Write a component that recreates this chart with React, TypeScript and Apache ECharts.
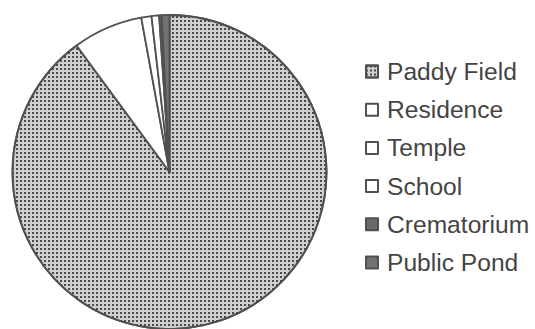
import React, { useEffect, useRef } from "react";
import * as echarts from "echarts";

const categories = ["Paddy Field", "Residence", "Temple", "School", "Crematorium", "Public Pond"];
const values = [89.9, 7.2, 1.05, 0.78, 0.25, 0.8];

export default function App() {
  const ref = useRef<HTMLDivElement>(null);
  useEffect(() => {
    if (!ref.current) return;
    const chart = echarts.init(ref.current, undefined, { renderer: "svg" });
    const border = { borderColor: "#505050", borderWidth: 1.8 };
    const styles: any[] = [
      {
        color: "#d0d0d0",
        ...border,
        decal: {
          symbol: "rect",
          symbolSize: 1,
          color: "#4a4a4a",
          dashArrayX: [2, 1.3],
          dashArrayY: [2, 1.3],
          rotation: 0,
        },
      },
      { color: "#ffffff", ...border },
      { color: "#ffffff", ...border },
      { color: "#ffffff", ...border },
      { color: "#6a6a6a", ...border },
      { color: "#727272", ...border },
    ];
    chart.setOption({
      animation: false,
      backgroundColor: "#ffffff",
      legend: {
        orient: "vertical",
        left: 365,
        top: 59,
        padding: 0,
        itemWidth: 12,
        itemHeight: 12,
        itemGap: 13.2,
        icon: "rect",
        data: categories,
        textStyle: {
          fontFamily: "Liberation Sans, Arial, sans-serif",
          fontSize: 24.6,
          color: "#444444",
          padding: [0, 0, 0, 4],
        },
      },
      series: [
        {
          type: "pie",
          center: [169.5, 172],
          radius: 157,
          startAngle: 90,
          clockwise: true,
          label: { show: false },
          labelLine: { show: false },
          emphasis: { disabled: true },
          data: categories.map((name, i) => ({
            name,
            value: values[i],
            itemStyle: styles[i],
          })),
        },
      ],
    });
    return () => chart.dispose();
  }, []);
  return (
    <div
      ref={ref}
      style={{ position: "absolute", left: 0, top: 0, width: 535, height: 329 }}
    />
  );
}
